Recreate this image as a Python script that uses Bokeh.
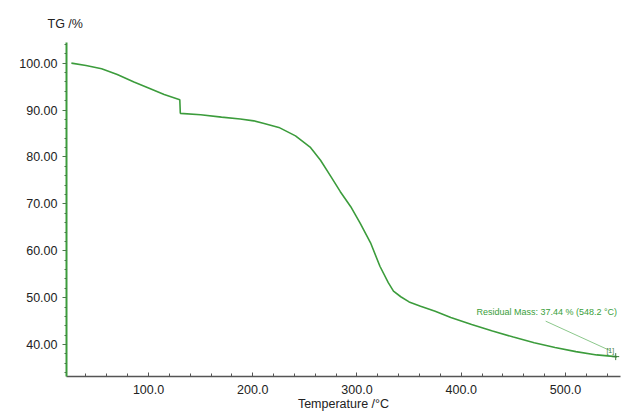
from bokeh.plotting import figure
from bokeh.models import Range1d, SingleIntervalTicker, PrintfTickFormatter, ColumnDataSource, Label
from bokeh.core.properties import value
from bokeh.embed import file_html
from bokeh.resources import INLINE

# Temperature (°C) and TG mass (%)
temperature = [26, 40, 55, 70, 86, 100, 115, 130, 130.5, 150, 170, 188, 201, 210,
               225, 241, 255, 265, 275, 284, 294, 303, 313, 322, 330, 335, 342,
               350, 361, 375, 390, 410, 430, 450, 470, 490, 510, 530, 548.2, 549.5]
tg_mass = [100.0, 99.5, 98.8, 97.6, 96.0, 94.7, 93.3, 92.2, 89.3, 89.0, 88.5, 88.1,
           87.7, 87.2, 86.3, 84.5, 82.1, 79.3, 75.8, 72.6, 69.4, 65.9, 61.7, 56.7,
           53.2, 51.4, 50.2, 49.1, 48.2, 47.1, 45.8, 44.3, 42.9, 41.6, 40.4, 39.4,
           38.5, 37.8, 37.44, 37.4]

residual_temp = [548.2]
residual_mass = [37.44]
annotation_text = ["Residual Mass: 37.44 % (548.2 \u00b0C)"]
annotation_pos_x = [549.5]
annotation_pos_y = [46.9]
leader_x = [481.0, 543.0]
leader_y = [45.0, 38.7]
footer_text = "Main   2024-09-09 10:04   User: DSC"

GREEN = "#3c9c3c"
FONT = "Liberation Sans"

p = figure(width=622, height=413, output_backend="svg", toolbar_location=None,
           x_range=Range1d(21.3, 552.8), y_range=Range1d(33.2, 104.4),
           min_border_left=66, min_border_right=2, min_border_top=42, min_border_bottom=35)
p.outline_line_color = None
p.xgrid.visible = False
p.ygrid.visible = False
p.background_fill_color = "white"

p.title.text = "TG /%"
p.title.align = "left"
p.title.offset = -19
p.title.text_font = FONT
p.title.text_font_size = "12.5px"
p.title.text_font_style = "normal"
p.title.text_color = "#222222"
p.title.standoff = 23

# x axis
p.xaxis.ticker = SingleIntervalTicker(interval=100, num_minor_ticks=5)
p.xaxis.formatter = PrintfTickFormatter(format="%.1f")
p.xaxis.axis_label = "Temperature /\u00b0C"
p.xaxis.axis_label_text_font = FONT
p.xaxis.axis_label_text_font_size = "12.5px"
p.xaxis.axis_label_text_font_style = "normal"
p.xaxis.axis_label_text_color = "#222222"
p.xaxis.axis_label_standoff = 0
p.xaxis.major_label_text_font = FONT
p.xaxis.major_label_text_font_size = "12.5px"
p.xaxis.major_label_text_color = "#222222"
p.xaxis.major_label_standoff = 8
p.xaxis.axis_line_color = "#555555"
p.xaxis.axis_line_width = 1.5
p.xaxis.major_tick_in = 4
p.xaxis.major_tick_out = 0
p.xaxis.minor_tick_in = 3
p.xaxis.minor_tick_out = 0
p.xaxis.major_tick_line_color = "#555555"
p.xaxis.minor_tick_line_color = "#555555"

# y axis
p.yaxis.ticker = SingleIntervalTicker(interval=10, num_minor_ticks=5)
p.yaxis.formatter = PrintfTickFormatter(format="%.2f")
p.yaxis.major_label_text_font = FONT
p.yaxis.major_label_text_font_size = "12.5px"
p.yaxis.major_label_text_color = "#222222"
p.yaxis.major_label_standoff = 5
p.yaxis.axis_line_color = GREEN
p.yaxis.axis_line_width = 2
p.yaxis.major_tick_out = 4
p.yaxis.major_tick_in = 0
p.yaxis.minor_tick_out = 2
p.yaxis.minor_tick_in = 0
p.yaxis.major_tick_line_color = "#4a7a4a"
p.yaxis.minor_tick_line_color = "#4a7a4a"

src = ColumnDataSource(data=dict(t=temperature, m=tg_mass))
p.line("t", "m", source=src, line_color=GREEN, line_width=1.6)

p.line(leader_x, leader_y, line_color="#8cc88c", line_width=1)
p.scatter(residual_temp, residual_mass, marker="cross", size=7, line_color="#3c7c3c", line_width=1)
p.text([leader_x[1]], [leader_y[1]], text=["[1]"], text_font=value(FONT), text_font_size="7px",
       text_color="#3c7c3c", text_align="center", text_baseline="middle")
p.text(annotation_pos_x, annotation_pos_y, text=annotation_text, text_font=value(FONT),
       text_font_size="9px", text_color="#3aa03a", text_align="right", text_baseline="middle")

p.add_layout(Label(x=-34.0, y=26.6, text=footer_text, text_font=FONT, text_font_size="5px",
                   text_color="#aaaaaa", text_baseline="middle"))

open("out.html", "w").write(file_html(p, INLINE))
